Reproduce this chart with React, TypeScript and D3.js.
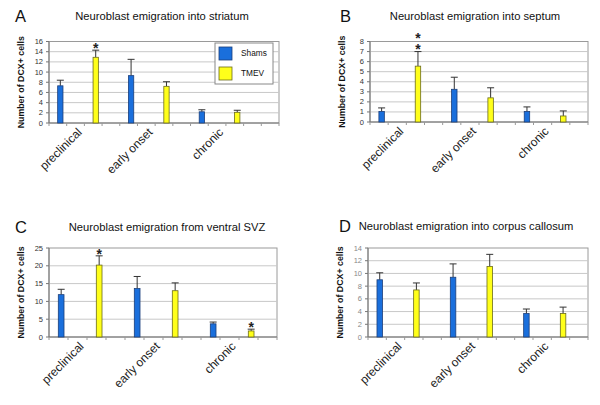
import React from "react";
import * as d3 from "d3";

const seriesNames = ["Shams", "TMEV"];
const categoryLabels = ["preclinical", "early onset", "chronic"];

// Panel A: striatum
const aShams = [7.3, 9.3, 2.2];
const aShamsErr = [1.1, 3.2, 0.4];
const aTmev = [12.9, 7.2, 2.1];
const aTmevErr = [1.4, 0.9, 0.4];
const aStars = ["", "*", "", "", "", ""];
const aTicks = [0, 2, 4, 6, 8, 10, 12, 14, 16];

// Panel B: septum
const bShams = [1.05, 3.25, 1.05];
const bShamsErr = [0.35, 1.2, 0.45];
const bTmev = [5.55, 2.4, 0.6];
const bTmevErr = [1.45, 1.0, 0.5];
const bStars = ["", "**", "", "", "", ""];
const bTicks = [0, 1, 2, 3, 4, 5, 6, 7, 8];

// Panel C: ventral SVZ
const cShams = [11.9, 13.6, 3.7];
const cShamsErr = [1.5, 3.4, 0.5];
const cTmev = [20.2, 13.0, 1.7];
const cTmevErr = [2.6, 2.2, 0.5];
const cStars = ["", "*", "", "", "", "*"];
const cTicks = [0, 5, 10, 15, 20, 25];

// Panel D: corpus callosum
const dShams = [9.0, 9.4, 3.7];
const dShamsErr = [1.1, 2.1, 0.7];
const dTmev = [7.4, 11.1, 3.7];
const dTmevErr = [1.1, 1.9, 1.0];
const dStars = ["", "", "", "", "", ""];
const dTicks = [0, 2, 4, 6, 8, 10, 12, 14];

const BLUE = "#1a6fdc";
const BLUE_STROKE = "#1c3f7a";
const YELLOW = "#ffff1a";
const YELLOW_STROKE = "#6b6b1a";
const FONT = "Arial, 'Liberation Sans', Helvetica, sans-serif";

type PanelProps = {
  letter: string;
  title: string;
  letterX: number;
  titleX: number;
  titleY: number;
  left: number;
  right: number;
  top: number;
  bottom: number;
  nSlots: number;
  shams: number[];
  shamsErr: number[];
  tmev: number[];
  tmevErr: number[];
  stars: string[];
  ticks: number[];
  tickColor: string;
  legend?: boolean;
};

function Panel(p: PanelProps) {
  const slots = d3.range(p.nSlots).map(String);
  const x = d3.scaleBand<string>().domain(slots).range([p.left, p.right]).padding(0);
  const maxV = p.ticks[p.ticks.length - 1];
  const y = d3.scaleLinear().domain([0, maxV]).range([p.bottom, p.top]);
  const bw = x.bandwidth();
  const barW = Math.max(5, bw * 0.3);
  const off = bw * 0.14;

  const bars: { slot: number; v: number; e: number; fill: string; stroke: string; star: string }[] = [];
  categoryLabels.forEach((_, i) => {
    bars.push({ slot: i * 4, v: p.shams[i], e: p.shamsErr[i], fill: BLUE, stroke: BLUE_STROKE, star: p.stars[i * 2] });
    bars.push({ slot: i * 4 + 2, v: p.tmev[i], e: p.tmevErr[i], fill: YELLOW, stroke: YELLOW_STROKE, star: p.stars[i * 2 + 1] });
  });

  const yLabelX = p.left - 25;
  const midY = (p.top + p.bottom) / 2;

  return (
    <g>
      <text x={p.letterX} y={p.titleY + 2} fontFamily={FONT} fontSize={16.5} fill="#111">{p.letter}</text>
      <text x={p.titleX} y={p.titleY} fontFamily={FONT} fontSize={11.2} textAnchor="middle" fill="#111">{p.title}</text>
      <rect x={p.left} y={p.top} width={p.right - p.left} height={p.bottom - p.top} fill="white" stroke="#9a9a9a" strokeWidth={1} />
      {p.ticks.map((t) => (
        <g key={t}>
          {t > 0 && t < maxV && (
            <line x1={p.left} x2={p.right} y1={y(t)} y2={y(t)} stroke="#c8c8c8" strokeWidth={1} />
          )}
          <line x1={p.left - 3} x2={p.left} y1={y(t)} y2={y(t)} stroke="#777" strokeWidth={1} />
          <text x={p.left - 6} y={y(t) + 2.5} fontFamily={FONT} fontSize={7.5} textAnchor="end" fill={p.tickColor}>{t}</text>
        </g>
      ))}
      <line x1={p.left} x2={p.left} y1={p.top} y2={p.bottom} stroke="#777" strokeWidth={1} />
      <line x1={p.left} x2={p.right} y1={p.bottom} y2={p.bottom} stroke="#777" strokeWidth={1} />
      {d3.range(p.nSlots + 1).map((i) => {
        const tx = p.left + i * bw;
        return <line key={i} x1={tx} x2={tx} y1={p.bottom} y2={p.bottom + 3} stroke="#999" strokeWidth={1} />;
      })}
      {bars.map((b, i) => {
        const cx = (x(String(b.slot)) as number) + bw / 2 + off;
        const top = y(b.v);
        const eTop = y(b.v + b.e);
        const n = b.star.length;
        return (
          <g key={i}>
            <line x1={cx} x2={cx} y1={top} y2={eTop} stroke="#333" strokeWidth={1} />
            <line x1={cx - 3.5} x2={cx + 3.5} y1={eTop} y2={eTop} stroke="#333" strokeWidth={1} />
            <rect x={cx - barW / 2} y={top} width={barW} height={p.bottom - top} fill={b.fill} stroke={b.stroke} strokeWidth={0.8} />
            {n === 1 && (
              <text x={cx} y={eTop + 3} fontFamily={FONT} fontSize={14} fontWeight="bold" textAnchor="middle" fill="#222">{b.star}</text>
            )}
            {n > 1 && (
              <text x={cx} y={eTop - 22} fontFamily={FONT} fontSize={14} fontWeight="bold" fill="#222"
                style={{ writingMode: "vertical-rl", textOrientation: "upright", letterSpacing: "-5px" } as any}>{b.star}</text>
            )}
          </g>
        );
      })}
      {categoryLabels.map((c, i) => {
        const lx = (x(String(i * 4 + 1)) as number) + bw / 2 + 7;
        const ly = p.bottom + 10;
        return (
          <text key={c} x={lx} y={ly} fontFamily={FONT} fontSize={12} textAnchor="end" fill="#222" transform={`rotate(-45 ${lx} ${ly})`}>{c}</text>
        );
      })}
      <text x={yLabelX} y={midY} fontFamily={FONT} fontSize={8.8} fontWeight="bold" textAnchor="middle" fill="#111" transform={`rotate(-90 ${yLabelX} ${midY})`}>Number of DCX+ cells</text>
      {p.legend && (
        <g>
          <rect x={215} y={43} width={58} height={41} fill="white" stroke="#888" strokeWidth={1} />
          <rect x={219} y={47} width={13} height={13} fill={BLUE} stroke={BLUE_STROKE} strokeWidth={0.8} />
          <text x={241} y={56} fontFamily={FONT} fontSize={8.3} fill="#111">{seriesNames[0]}</text>
          <rect x={219} y={67} width={13} height={13} fill={YELLOW} stroke={YELLOW_STROKE} strokeWidth={0.8} />
          <text x={241} y={76} fontFamily={FONT} fontSize={8.3} fill="#111">{seriesNames[1]}</text>
        </g>
      )}
    </g>
  );
}

export default function App() {
  return (
    <svg width={600} height={405} style={{ position: "absolute", left: 0, top: 0, background: "white" }}>
      <rect x={0} y={0} width={600} height={405} fill="white" />
      <Panel letter="A" title="Neuroblast emigration into striatum" letterX={15} titleX={162} titleY={20}
        left={49} right={279} top={41.5} bottom={123} nSlots={13}
        shams={aShams} shamsErr={aShamsErr} tmev={aTmev} tmevErr={aTmevErr} stars={aStars} ticks={aTicks} tickColor="#333" legend />
      <Panel letter="B" title="Neuroblast emigration into septum" letterX={340} titleX={475} titleY={20}
        left={370} right={588} top={41.5} bottom={122} nSlots={12}
        shams={bShams} shamsErr={bShamsErr} tmev={bTmev} tmevErr={bTmevErr} stars={bStars} ticks={bTicks} tickColor="#333" />
      <Panel letter="C" title="Neuroblast emigration from ventral SVZ" letterX={15} titleX={167} titleY={231}
        left={49} right={277} top={248} bottom={337} nSlots={12}
        shams={cShams} shamsErr={cShamsErr} tmev={cTmev} tmevErr={cTmevErr} stars={cStars} ticks={cTicks} tickColor="#333" />
      <Panel letter="D" title="Neuroblast emigration into corpus callosum" letterX={339} titleX={466} titleY={230}
        left={368} right={588} top={248} bottom={337} nSlots={12}
        shams={dShams} shamsErr={dShamsErr} tmev={dTmev} tmevErr={dTmevErr} stars={dStars} ticks={dTicks} tickColor="#888" />
    </svg>
  );
}
